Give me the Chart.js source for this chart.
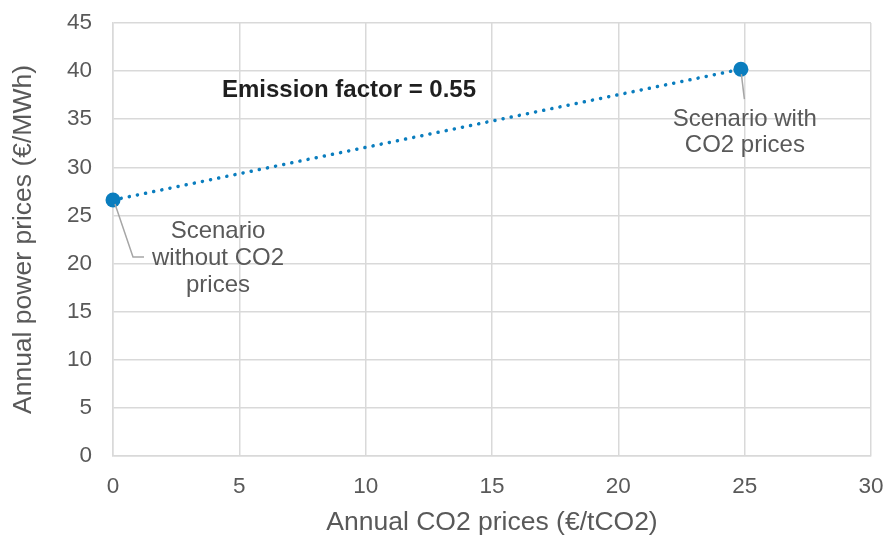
<!DOCTYPE html>
<html>
<head>
<meta charset="utf-8">
<script src="https://cdn.jsdelivr.net/npm/chart.js@4.4.1/dist/chart.umd.min.js"></script>
<style>
  html, body { margin: 0; padding: 0; background: #fff; }
  #wrap { width: 886px; height: 536px; position: relative; }
</style>
</head>
<body>
<div id="wrap"><canvas id="c" width="886" height="536"></canvas></div>
<script>
// Scenario points: CO2 price (€/tCO2) vs. annual power price (€/MWh)
const co2Prices = [0, 24.85];
const powerPrices = [26.6, 40.2];
const scenarioLabels = [
  ['Scenario', 'without CO2', 'prices'],
  ['Scenario with', 'CO2 prices']
];
const xTicks = [0, 5, 10, 15, 20, 25, 30];
const yTicks = [0, 5, 10, 15, 20, 25, 30, 35, 40, 45];
const factorText = 'Emission factor = 0.55';

const FONT = '"Liberation Sans", Arial, sans-serif';
const GREY = '#595959';
const BLUE = '#0a7dbe';

// Draws scenario captions with their leader lines, plus the slope note
const notes = {
  id: 'notes',
  afterDatasetsDraw(chart) {
    const { ctx, scales: { x, y } } = chart;
    const p0 = { x: x.getPixelForValue(co2Prices[0]), y: y.getPixelForValue(powerPrices[0]) };
    const p1 = { x: x.getPixelForValue(co2Prices[1]), y: y.getPixelForValue(powerPrices[1]) };
    ctx.save();
    ctx.strokeStyle = '#a6a6a6';
    ctx.lineWidth = 1.5;
    ctx.beginPath();
    ctx.moveTo(p0.x + 2, p0.y + 4);
    ctx.lineTo(p0.x + 20, p0.y + 57);
    ctx.lineTo(p0.x + 31, p0.y + 57);
    ctx.stroke();
    ctx.beginPath();
    ctx.moveTo(p1.x + 0.5, p1.y + 5);
    ctx.lineTo(p1.x + 3.5, p1.y + 30);
    ctx.stroke();

    ctx.fillStyle = GREY;
    ctx.font = '24px ' + FONT;
    ctx.textAlign = 'center';
    ctx.textBaseline = 'middle';
    scenarioLabels[0].forEach((t, i) => ctx.fillText(t, p0.x + 105, p0.y + 31 + i * 27));
    scenarioLabels[1].forEach((t, i) => ctx.fillText(t, p1.x + 4, p1.y + 50 + i * 26));

    ctx.fillStyle = '#1f1f1f';
    ctx.font = 'bold 24px ' + FONT;
    ctx.fillText(factorText, x.getPixelForValue(9.34), y.getPixelForValue(38.0));
    ctx.restore();
  }
};

new Chart(document.getElementById('c'), {
  type: 'scatter',
  data: {
    datasets: [{
      data: co2Prices.map((v, i) => ({ x: v, y: powerPrices[i] })),
      showLine: true,
      clip: false,
      borderColor: BLUE,
      borderWidth: 3.5,
      borderDash: [0.1, 8.2],
      borderCapStyle: 'round',
      pointRadius: 7.5,
      pointBackgroundColor: BLUE,
      pointBorderColor: BLUE,
      pointBorderWidth: 0
    }]
  },
  options: {
    responsive: false,
    animation: false,
    events: [],
    layout: { padding: { top: 23, right: 15, left: 0, bottom: 0 } },
    plugins: { legend: { display: false }, tooltip: { enabled: false } },
    scales: {
      x: {
        type: 'linear', min: 0, max: 30,
        afterBuildTicks: s => { s.ticks = xTicks.map(v => ({ value: v })); },
        afterFit: s => { s.height = 80; s.paddingLeft = 0; s.paddingRight = 0; },
        grid: { color: '#d9d9d9', lineWidth: 1.5, drawTicks: false },
        border: { color: '#d9d9d9', width: 1.5 },
        ticks: { color: GREY, font: { family: FONT, size: 22.5 }, padding: 17 },
        title: { display: true, text: 'Annual CO2 prices (€/tCO2)', color: GREY,
                 font: { family: FONT, size: 26.5, lineHeight: 1 }, padding: { top: 0, bottom: 0 } }
      },
      y: {
        type: 'linear', min: 0, max: 45,
        afterBuildTicks: s => { s.ticks = yTicks.map(v => ({ value: v })); },
        afterFit: s => { s.width = 113; s.paddingTop = 0; s.paddingBottom = 0; },
        grid: { color: '#d9d9d9', lineWidth: 1.5, drawTicks: false },
        border: { color: '#d9d9d9', width: 1.5 },
        ticks: { color: GREY, font: { family: FONT, size: 22.5 }, padding: 21 },
        title: { display: true, text: 'Annual power prices (€/MWh)', color: GREY,
                 font: { family: FONT, size: 26.5 }, padding: { top: 8, bottom: 0 } }
      }
    }
  },
  plugins: [notes]
});
</script>
</body>
</html>
